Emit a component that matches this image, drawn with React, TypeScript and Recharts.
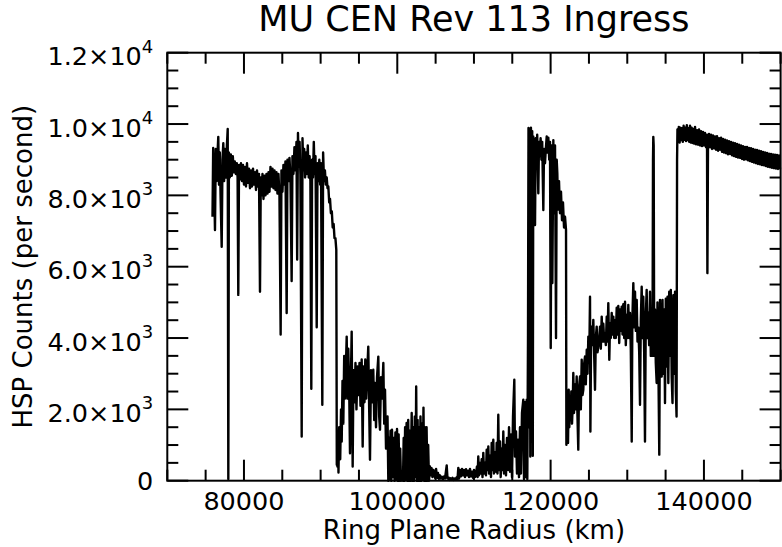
import React from 'react';
import { LineChart, Line, XAxis, YAxis } from 'recharts';

// ---------- layout ----------
const W = 782;
const H = 547;
const MARGIN = { top: 52.7, right: 1.4, bottom: 0, left: 0 };
const Y_AXIS_WIDTH = 167.3;
const X_AXIS_HEIGHT = 66.3;
const PLOT_LEFT = MARGIN.left + Y_AXIS_WIDTH;
const PLOT_RIGHT = W - MARGIN.right;
const PLOT_TOP = MARGIN.top;
const PLOT_BOTTOM = H - MARGIN.bottom - X_AXIS_HEIGHT;
const FONT = "'DejaVu Sans', sans-serif";

// ---------- axes ----------
const xDomain = [70000, 150000];
const yDomain = [0, 12000];
const xTicks = [70000, 75000, 80000, 85000, 90000, 95000, 100000, 105000, 110000, 115000, 120000, 125000, 130000, 135000, 140000, 145000, 150000];
const xMajorTicks = [80000, 100000, 120000, 140000];
const yTicks = [0, 500, 1000, 1500, 2000, 2500, 3000, 3500, 4000, 4500, 5000, 5500, 6000, 6500, 7000, 7500, 8000, 8500, 9000, 9500, 10000, 10500, 11000, 11500, 12000];
const yMajorTicks = [0, 2000, 4000, 6000, 8000, 10000, 12000];

const title = 'MU CEN Rev 113 Ingress';
const xLabel = 'Ring Plane Radius (km)';
const yLabel = 'HSP Counts (per second)';

// ---------- data: [ring plane radius (km), HSP counts per second] ----------
const cRing: [number, number][] = [
  [75895, 7400], [75985, 9330], [76090, 8600], [76220, 7030], [76325, 9300], [76430, 8400], [76535, 9100], [76650, 9640],
  [76745, 8300], [76850, 9200], [76950, 8000], [77095, 6560], [77200, 9000], [77305, 9460], [77410, 8400], [77525, 9300],
  [77655, 8500], [77775, 9400], [77880, 9860], [77960, 50], [78035, 9200], [78150, 8500], [78285, 9150], [78415, 8550],
  [78545, 9100], [78675, 8650], [78805, 8950], [78935, 8600], [79065, 8900], [79170, 8500], [79260, 5210], [79355, 8850],
  [79480, 8450], [79610, 8900], [79745, 8400], [79875, 8850], [80005, 8300], [80135, 8800], [80265, 8250], [80395, 8900],
  [80525, 8350], [80655, 8750], [80785, 8200], [80915, 8700], [81045, 8250], [81180, 8750], [81310, 8300], [81440, 8650],
  [81570, 8150], [81700, 8700], [81830, 8250], [81960, 8600], [82090, 5300], [82195, 8500], [82300, 8000], [82415, 8600],
  [82545, 7900], [82675, 8550], [82805, 8000], [82935, 8600], [83070, 8050], [83200, 8650], [83330, 8100], [83460, 8800],
  [83590, 8250], [83720, 8750], [83850, 8200], [83980, 8700], [84110, 8150], [84240, 8650], [84370, 8050], [84500, 8600],
  [84630, 8000], [84785, 4100], [84890, 8700], [85020, 8100], [85150, 8850], [85280, 8300], [85410, 8950], [85570, 4700],
  [85675, 9000], [85805, 8400], [85935, 9050], [86065, 8500], [86220, 5600], [86325, 9100], [86455, 8600], [86585, 9350],
  [86720, 8700], [86850, 9500], [86940, 6200], [87045, 9750], [87150, 8800], [87255, 9500], [87360, 8600], [87530, 1240],
  [87635, 9600], [87740, 8700], [87855, 9300], [87975, 8500], [88090, 9200], [88210, 8600], [88325, 9400], [88445, 8500],
  [88560, 9100], [88665, 8400], [88785, 2580], [88890, 9000], [89005, 8500], [89110, 9500], [89215, 8600], [89330, 9100],
  [89490, 4300], [89595, 8900], [89710, 8400], [89830, 9000], [89945, 8300], [90050, 8900], [90220, 2130], [90325, 9200],
  [90440, 8400], [90560, 8700], [90675, 8300], [90795, 8500], [90900, 8200], [91005, 8250], [91120, 7800], [91225, 7900],
  [91340, 7500], [91460, 7550], [91575, 7100], [91695, 7200], [91810, 6800], [91930, 6800], [92045, 6470], [92110, 450],
];

const bRing: [number, number][] = [
  [92125, 1400], [92190, 400], [92265, 1300], [92330, 230], [92420, 1500], [92555, 600], [92660, 2000], [92750, 1100],
  [92855, 2800], [92960, 1600], [93075, 3500], [93180, 2300], [93400, 4040], [93505, 2300], [93610, 3700], [93730, 2500],
  [93830, 770], [93960, 3000], [94050, 4180], [94180, 400], [94285, 3100], [94415, 2200], [94545, 3300], [94675, 2000],
  [94810, 3200], [94940, 2400], [95070, 3300], [95200, 2100], [95355, 3400], [95485, 960], [95590, 3200], [95720, 2200],
  [95825, 3400], [95940, 2300], [96070, 3000], [96215, 3760], [96335, 2000], [96440, 590], [96570, 3100], [96700, 2200],
  [96870, 3110], [96990, 1700], [97090, 2740], [97225, 1500], [97355, 2900], [97525, 3480], [97640, 1800], [97745, 1430],
  [97875, 2900], [98005, 2300], [98180, 3300], [98295, 1600], [98400, 2550], [98530, 900], [98620, 1300], [98725, 1800],
  [98830, 0], [98920, 1200], [99010, 50], [99115, 1400], [99220, 0], [99310, 1430], [99440, 100], [99545, 1200],
  [99650, 0], [99755, 1350], [99860, 50], [99965, 1450], [100070, 0], [100175, 1300], [100275, 0], [100380, 900],
  [100485, 0], [100615, 200], [100745, 0], [100835, 1200], [100930, 0], [101020, 1500], [101110, 50], [101215, 1620],
  [101320, 0], [101425, 1700], [101530, 0], [101630, 1400], [101735, 0], [101880, 1900], [101970, 0], [102075, 1500],
  [102180, 0], [102285, 1800], [102385, 100], [102465, 2640], [102555, 0], [102650, 1700], [102740, 0], [102830, 1500],
  [102935, 0], [103025, 1800], [103130, 0], [103220, 1600], [103325, 50], [103415, 2050], [103520, 0], [103610, 1500],
  [103715, 0], [103820, 1500], [103925, 0], [104030, 1000], [104135, 0], [104265, 400], [104370, 150], [104475, 350],
  [104590, 100], [104710, 300], [104825, 180], [104945, 80], [105060, 330], [105180, 80], [105310, 220], [105440, 50],
  [105570, 150], [105700, 60], [105830, 110], [105965, 40], [106095, 120], [106225, 60], [106445, 430], [106550, 60],
  [106680, 90], [106810, 20], [106940, 70], [107070, 30], [107200, 80], [107330, 20], [107465, 60], [107595, 30],
  [107725, 90], [107855, 40], [107960, 360], [108050, 60], [108180, 300], [108310, 120], [108440, 330], [108570, 150],
  [108700, 300], [108830, 100], [108965, 320], [109095, 150], [109225, 280], [109355, 100], [109485, 330], [109615, 120],
  [109745, 250], [109875, 80], [110005, 300], [110135, 100], [110265, 200], [110395, 400], [110475, 100], [110565, 680],
  [110660, 150], [110790, 500], [110920, 200], [111010, 600], [111115, 100], [111220, 780], [111310, 200], [111440, 500],
  [111570, 150], [111660, 870], [111765, 300], [111875, 960], [111965, 200], [112095, 700], [112225, 100], [112315, 1060],
  [112420, 300], [112525, 1150], [112615, 200], [112745, 800], [112875, 250], [112965, 1060], [113070, 200], [113175, 1850],
  [113265, 300], [113400, 1100], [113490, 100], [113595, 900], [113725, 300], [113830, 1380], [113920, 200], [114050, 1000],
  [114180, 150], [114310, 1200], [114440, 300], [114575, 1500], [114705, 250], [114835, 1300], [114965, 100], [115095, 1800],
  [115265, 2830], [115355, 680], [115485, 1380], [115615, 200], [115745, 1150], [115875, 100], [116005, 1500], [116135, 200],
  [116265, 1900], [116440, 2270], [116530, 50], [116660, 2200], [116765, 100], [116880, 2270], [116960, 50],
];

const cassiniDivision: [number, number][] = [
  [117050, 4000], [117115, 9890], [117180, 1500], [117275, 9750], [117350, 680], [117430, 9900], [117520, 9400], [117600, 9800],
  [117675, 700], [117740, 9650], [117835, 8800], [117965, 7170], [118055, 9600], [118160, 9100], [118250, 9700], [118395, 8060],
  [118485, 9500], [118590, 9100], [118695, 9600], [118800, 9000], [118905, 9500], [119050, 7590], [119140, 9300], [119270, 8900],
  [119375, 9300], [119490, 9650], [119595, 9200], [119700, 9620], [119820, 9000], [119920, 9500], [120015, 3720], [120120, 9400],
  [120225, 5540], [120355, 9550], [120470, 7500], [120575, 9400], [120705, 4000], [120795, 9000], [120875, 8620], [120965, 7600],
  [121095, 8400], [121225, 7500], [121355, 8100], [121485, 7300], [121615, 7800], [121750, 7100], [121880, 7400], [122010, 7030],
  [122060, 1010],
];

const aRing: [number, number][] = [
  [122110, 1500], [122205, 2300], [122270, 1060], [122360, 2550], [122440, 1500], [122530, 2200], [122620, 1700], [122700, 2500],
  [122790, 1600], [122880, 2100], [122960, 3020], [123050, 1900], [123180, 2700], [123285, 2000], [123400, 2920], [123505, 1800],
  [123610, 870], [123700, 2600], [123835, 2920], [123940, 2000], [124055, 3390], [124160, 2400], [124265, 2550], [124385, 3300],
  [124485, 3480], [124590, 2700], [124710, 3670], [124815, 3000], [124920, 4040], [125035, 3300], [125140, 5160], [125190, 1380],
  [125270, 3700], [125360, 4320], [125465, 3800], [125570, 4510], [125685, 3500], [125790, 2550], [125895, 4000], [126010, 4320],
  [126115, 3600], [126220, 3760], [126340, 4000], [126445, 4320], [126550, 3700], [126665, 4600], [126770, 3900], [126875, 4400],
  [126995, 3900], [127100, 4130], [127205, 3800], [127320, 4600], [127420, 3900], [127525, 4980], [127655, 3390], [127750, 4400],
  [127855, 4000], [127970, 4700], [128075, 4100], [128180, 4600], [128295, 4000], [128400, 4500], [128505, 4000], [128620, 4850],
  [128725, 4100], [128830, 4900], [128950, 3860], [129055, 4800], [129160, 4200], [129275, 4880], [129380, 4100], [129485, 4950],
  [129600, 4000], [129705, 5020], [129810, 3800], [129925, 4650], [130030, 4000], [130135, 4930], [130250, 4000], [130355, 4700],
  [130460, 3700], [130580, 1100], [130660, 4500], [130790, 5540], [130905, 4300], [131010, 5300], [131115, 4200], [131230, 5070],
  [131335, 3900], [131440, 4300], [131555, 3600], [131660, 2130], [131765, 4500], [131880, 5440], [131985, 4000], [132090, 5160],
  [132205, 3600], [132310, 1100], [132415, 4600], [132530, 5350], [132635, 4000], [132740, 4700], [132855, 3800], [132965, 5300],
  [133070, 3500], [133185, 4600], [133290, 3500], [133355, 9000], [133395, 9640], [133445, 9400], [133510, 3500], [133615, 4800],
  [133720, 3300], [133835, 2740], [133940, 5000], [134045, 3500], [134175, 730], [134270, 5070], [134375, 3000], [134490, 2920],
  [134595, 5070], [134700, 3000], [134820, 4800], [134920, 2180], [135025, 5100], [135145, 3200], [135250, 5160], [135355, 2740],
  [135470, 5300], [135575, 3500], [135680, 5350], [135795, 2900], [135900, 2180], [136010, 5200], [136100, 3000], [136230, 5300],
  [136335, 2500], [136430, 1800], [136495, 9000], [136545, 9850],
];

const outerRegion: [number, number][] = [
  [136620, 9500], [136725, 9920], [136830, 9480], [136930, 9900], [137035, 9550], [137140, 9880], [137245, 9500], [137350, 9950],
  [137455, 9560], [137560, 9900], [137665, 9520], [137770, 9970], [137875, 9550], [137975, 9880], [138080, 9500], [138185, 9950],
  [138290, 9480], [138395, 9900], [138500, 9470], [138605, 9860], [138710, 9450], [138840, 9920], [138970, 9430], [139100, 9830],
  [139230, 9420], [139360, 9850], [139490, 9400], [139620, 9800], [139750, 9380], [139880, 9780], [140010, 9400], [140140, 9750],
  [140270, 9350], [140400, 9700], [140450, 5820], [140530, 9400], [140660, 9720], [140795, 9350], [140925, 9700], [141055, 9300],
  [141185, 9680], [141315, 9320], [141445, 9650], [141575, 9280], [141705, 9660], [141835, 9250], [141965, 9600], [142100, 9280],
  [142230, 9620], [142360, 9220], [142490, 9580], [142620, 9200], [142750, 9560], [142880, 9180], [143010, 9540], [143140, 9150],
  [143270, 9520], [143400, 9160], [143530, 9500], [143665, 9120], [143795, 9480], [143925, 9100], [144055, 9460], [144185, 9080],
  [144315, 9440], [144445, 9060], [144575, 9420], [144705, 9050], [144835, 9400], [144965, 9020], [145095, 9380], [145225, 9000],
  [145355, 9360], [145490, 9010], [145620, 9360], [145750, 8980], [145880, 9330], [146010, 8960], [146140, 9320], [146270, 8940],
  [146400, 9300], [146530, 8920], [146660, 9280], [146790, 8900], [146920, 9270], [147050, 8880], [147185, 9250], [147315, 8870],
  [147445, 9240], [147575, 8850], [147705, 9220], [147835, 8840], [147965, 9200], [148095, 8820], [148225, 9190], [148355, 8800],
  [148485, 9170], [148620, 8790], [148750, 9160], [148880, 8770], [149010, 9150], [149140, 8760], [149270, 9140], [149400, 8750],
  [149530, 9130], [149660, 8740], [149790, 9120], [149920, 8730],
];

const data = [...cRing, ...bRing, ...cassiniDivision, ...aRing, ...outerRegion].map(([r, c]) => ({ r, c }));

// ---------- tick renderers ----------
const renderXTick = (props: any) => {
  const { x, payload } = props;
  const v = payload.value as number;
  const major = xMajorTicks.includes(v);
  const len = major ? 21 : 11;
  return (
    <g key={`xt-${v}`}>
      <line x1={x} x2={x} y1={PLOT_BOTTOM} y2={PLOT_BOTTOM - len} stroke="#000" strokeWidth={2} />
      <line x1={x} x2={x} y1={PLOT_TOP} y2={PLOT_TOP + len} stroke="#000" strokeWidth={2} />
      {major && (
        <text x={x} y={PLOT_BOTTOM + 29.6} textAnchor="middle" fontSize={25.5} fontFamily={FONT} fill="#000">
          {String(v)}
        </text>
      )}
    </g>
  );
};

const renderYTick = (props: any) => {
  const { y, payload } = props;
  const v = payload.value as number;
  const major = yMajorTicks.includes(v);
  const len = major ? 21 : 11;
  let label: React.ReactNode = null;
  if (major) {
    if (v === 0) {
      label = (
        <text x={PLOT_LEFT - 14} y={y + 9.5} textAnchor="end" fontSize={25.5} fontFamily={FONT} fill="#000">0</text>
      );
    } else {
      const exp = Math.floor(Math.log10(v));
      const mant = (v / Math.pow(10, exp)).toFixed(1);
      label = (
        <text x={PLOT_LEFT - 14} y={y + 12.5} textAnchor="end" fontSize={25.5} fontFamily={FONT} fill="#000">
          {mant}×10
          <tspan dy={-12.5} fontSize={18}>{exp}</tspan>
        </text>
      );
    }
  }
  return (
    <g key={`yt-${v}`}>
      <line x1={PLOT_LEFT} x2={PLOT_LEFT + len} y1={y} y2={y} stroke="#000" strokeWidth={2} />
      <line x1={PLOT_RIGHT} x2={PLOT_RIGHT - len} y1={y} y2={y} stroke="#000" strokeWidth={2} />
      {label}
    </g>
  );
};

export default function App() {
  return (
    <div style={{ position: 'absolute', left: 0, top: 0, width: W, height: H, background: '#fff' }}>
      <LineChart width={W} height={H} data={data} margin={MARGIN}>
        <XAxis
          dataKey="r"
          type="number"
          domain={xDomain}
          ticks={xTicks}
          interval={0}
          height={X_AXIS_HEIGHT}
          tickLine={false}
          axisLine={false}
          tick={renderXTick}
        />
        <YAxis
          type="number"
          domain={yDomain}
          ticks={yTicks}
          interval={0}
          width={Y_AXIS_WIDTH}
          tickLine={false}
          axisLine={false}
          tick={renderYTick}
        />
        <Line
          type="linear"
          dataKey="c"
          stroke="#000"
          strokeWidth={2.4}
          strokeLinejoin="round"
          dot={false}
          activeDot={false}
          isAnimationActive={false}
        />
      </LineChart>
      <svg width={W} height={H} style={{ position: 'absolute', left: 0, top: 0, pointerEvents: 'none' }}>
        <rect
          x={PLOT_LEFT}
          y={PLOT_TOP}
          width={PLOT_RIGHT - PLOT_LEFT}
          height={PLOT_BOTTOM - PLOT_TOP}
          fill="none"
          stroke="#000"
          strokeWidth={2}
        />
        <text x={(PLOT_LEFT + PLOT_RIGHT) / 2} y={31} textAnchor="middle" fontSize={35} fontFamily={FONT} fill="#000">
          {title}
        </text>
        <text x={(PLOT_LEFT + PLOT_RIGHT) / 2} y={539} textAnchor="middle" fontSize={26} fontFamily={FONT} fill="#000">
          {xLabel}
        </text>
        <text
          x={32.3}
          y={(PLOT_TOP + PLOT_BOTTOM) / 2}
          textAnchor="middle"
          fontSize={26}
          fontFamily={FONT}
          fill="#000"
          transform={`rotate(-90, 32.3, ${(PLOT_TOP + PLOT_BOTTOM) / 2})`}
        >
          {yLabel}
        </text>
      </svg>
    </div>
  );
}
